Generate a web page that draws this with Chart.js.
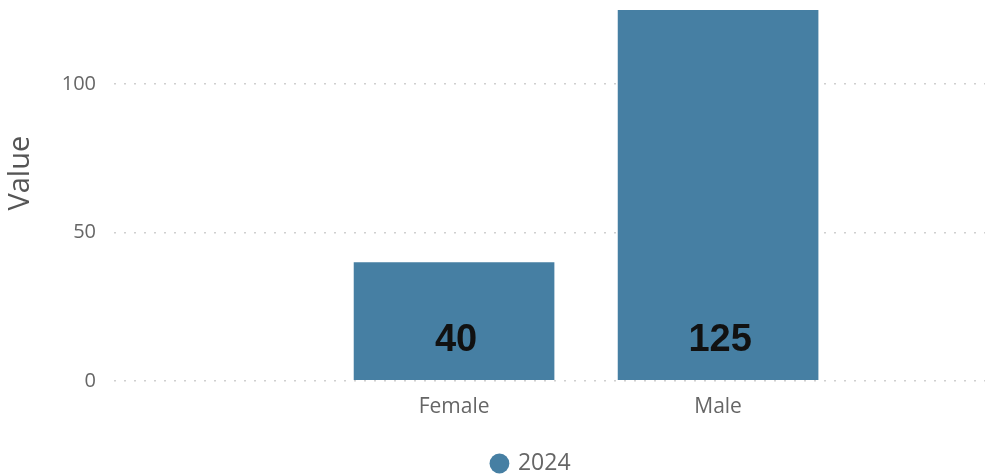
<!DOCTYPE html>
<html>
<head>
<meta charset="utf-8">
<script src="https://cdn.jsdelivr.net/npm/chart.js@4.4.1/dist/chart.umd.min.js"></script>
<style>
  html, body { margin: 0; padding: 0; background: #fff; }
  .chart-wrap { width: 987px; height: 475px; position: relative; }
</style>
</head>
<body>
<div class="chart-wrap"><canvas id="chart"></canvas></div>
<script>
const categories = ['Female', 'Male'];
const values2024 = [40, 125];
const seriesLabel = '2024';
const yTicks = [0, 50, 100];
const yTitle = 'Value';

const BAR_COLOR = '#467fa3';
const TEXT_GREY = '#666666';
const FONT = '"Open Sans", "Noto Sans", sans-serif';

// value labels sitting near the bottom of each bar
const barLabels = {
  id: 'barLabels',
  afterDatasetsDraw(chart) {
    const { ctx } = chart;
    const meta = chart.getDatasetMeta(0);
    ctx.save();
    ctx.font = 'bold 38px "Liberation Sans", Arial, sans-serif';
    ctx.fillStyle = '#111';
    ctx.textAlign = 'center';
    ctx.textBaseline = 'middle';
    meta.data.forEach((bar, i) => {
      ctx.fillText(String(values2024[i]), bar.x + 2, bar.base - 40);
    });
    ctx.restore();
  },
};

// y title sits a bit above the middle of the axis, legend a bit lower/left
const axisExtras = {
  id: 'axisExtras',
  afterLayout(chart) {
    const lg = chart.legend;
    lg.top += 10; lg.bottom += 10;
    lg.left -= 18; lg.right -= 18;
  },
  afterDraw(chart) {
    const { ctx, chartArea } = chart;
    ctx.save();
    ctx.translate(21, chartArea.top + (chartArea.bottom - chartArea.top) * 0.44);
    ctx.rotate(-Math.PI / 2);
    ctx.font = '29px ' + FONT;
    ctx.fillStyle = '#555';
    ctx.textAlign = 'center';
    ctx.textBaseline = 'middle';
    ctx.fillText(yTitle, 0, 0);
    ctx.restore();
  },
};

new Chart(document.getElementById('chart'), {
  type: 'bar',
  data: {
    datasets: [{
      label: seriesLabel,
      data: values2024.map((v, i) => ({ x: i, y: v })),
      backgroundColor: BAR_COLOR,
      borderWidth: 0,
      categoryPercentage: 1,
      barPercentage: 0.76,
    }],
  },
  options: {
    responsive: true,
    maintainAspectRatio: false,
    animation: false,
    layout: { padding: { top: 10, right: 2, bottom: 0, left: 0 } },
    plugins: {
      legend: {
        position: 'bottom',
        fullSize: false,
        labels: {
          usePointStyle: true,
          pointStyle: 'circle',
          boxWidth: 14,
          boxHeight: 14,
          padding: 8,
          color: TEXT_GREY,
          font: { family: FONT, size: 23 },
        },
      },
      tooltip: { enabled: false },
    },
    scales: {
      x: {
        type: 'linear',
        offset: false,
        min: -1.288,
        max: 2.011,
        grid: { display: false, drawTicks: false },
        border: { display: false },
        afterBuildTicks: (scale) => { scale.ticks = categories.map((_, i) => ({ value: i })); },
        ticks: {
          padding: 14,
          color: TEXT_GREY,
          font: { family: FONT, size: 21 },
          callback: (v) => categories[v] ?? '',
        },
      },
      y: {
        min: 0,
        max: 125,
        afterBuildTicks: (scale) => { scale.ticks = yTicks.map(v => ({ value: v })); },
        afterFit: (scale) => { scale.width = 114; scale.paddingTop = 0; },
        grid: { color: '#cfcfcf', lineWidth: 1.5, drawTicks: false },
        border: { display: false, dash: [2, 8] },
        ticks: {
          padding: 18,
          color: TEXT_GREY,
          font: { family: FONT, size: 20 },
        },
      },
    },
  },
  plugins: [barLabels, axisExtras],
});
</script>
</body>
</html>
